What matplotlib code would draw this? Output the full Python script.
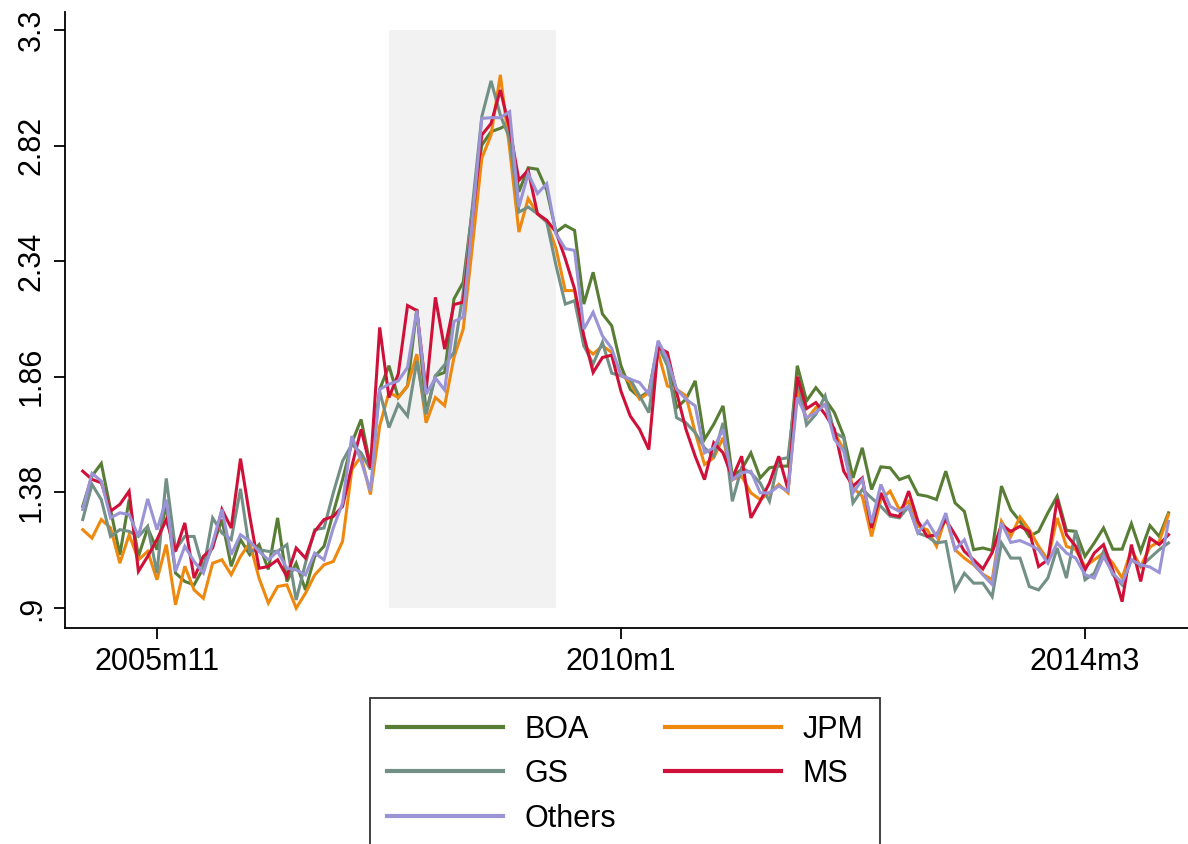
# 各银行月度指标走势（2005m3 - 2014m12），阴影为2007m12 - 2009m6衰退期

import numpy as np
import matplotlib
matplotlib.use('Agg')
import matplotlib.pyplot as plt

plt.rcParams['font.family'] = ['Liberation Sans', 'DejaVu Sans']

# 月份编号（Stata格式：自1960m1起的月数），2005m3 = 542
months = np.arange(542, 660)

# 衰退期起止（2007m12, 2009m6）
recession = (575, 593)

# 坐标轴刻度
xticks = [550, 600, 650]
xtick_labels = ['2005m11', '2010m1', '2014m3']
yticks = [0.9, 1.38, 1.86, 2.34, 2.82, 3.3]
ytick_labels = ['.9', '1.38', '1.86', '2.34', '2.82', '3.3']

boa = [
    1.322, 1.448, 1.50, 1.309, 1.121, 1.35, 1.114, 1.232, 1.142, 1.33, 1.045,
    1.01, 0.996, 1.066, 1.156, 1.267, 1.073, 1.184, 1.121, 1.163, 1.06,
    1.274, 1.01, 1.086, 0.975, 1.114, 1.156, 1.295, 1.433, 1.586, 1.683,
    1.489, 1.808, 1.906, 1.774, 1.822, 2.142, 1.711, 1.864, 1.878, 2.183,
    2.253, 2.558, 2.822, 2.878, 2.892, 2.912, 2.628, 2.728, 2.722, 2.635,
    2.461, 2.489, 2.468, 2.162, 2.294, 2.121, 2.072, 1.906, 1.808,
    1.774, 1.80, 1.996, 1.919, 1.732, 1.767, 1.843, 1.60, 1.663, 1.739,
    1.447, 1.475, 1.544, 1.44, 1.482, 1.489, 1.489, 1.906, 1.76,
    1.815, 1.767, 1.711, 1.614, 1.44, 1.565, 1.392, 1.486, 1.482, 1.433,
    1.447, 1.371, 1.364, 1.35, 1.468, 1.336, 1.301, 1.142, 1.149, 1.139,
    1.406, 1.308, 1.26, 1.197, 1.218, 1.295, 1.364, 1.222, 1.218, 1.114,
    1.17, 1.232, 1.144, 1.144, 1.25, 1.135, 1.242, 1.197, 1.295,
]

jpm = [
    1.225, 1.19, 1.267, 1.232, 1.086, 1.204, 1.10, 1.135, 1.017, 1.163, 0.913,
    1.073, 0.975, 0.94, 1.086, 1.10, 1.038, 1.114, 1.17, 1.024, 0.92,
    0.989, 0.996, 0.899, 0.961, 1.037, 1.079, 1.093, 1.177, 1.475, 1.53,
    1.371, 1.656, 1.795, 1.774, 1.822, 1.954, 1.669, 1.774, 1.74, 1.94,
    2.058, 2.406, 2.767, 2.864, 3.114, 2.808, 2.461, 2.60, 2.537, 2.503,
    2.392, 2.218, 2.218, 1.989, 1.954, 1.989, 1.961, 1.871, 1.836,
    1.767, 1.794, 1.961, 1.822, 1.808, 1.781, 1.628, 1.496, 1.524, 1.607,
    1.433, 1.447, 1.378, 1.35, 1.378, 1.413, 1.378, 1.808, 1.683,
    1.732, 1.746, 1.628, 1.558, 1.399, 1.364, 1.197, 1.35, 1.385, 1.308,
    1.343, 1.239, 1.225, 1.156, 1.28, 1.142, 1.107, 1.079, 1.04, 1.017,
    1.26, 1.197, 1.278, 1.225, 1.156, 1.10, 1.274, 1.156, 1.142, 1.072,
    1.10, 1.128, 1.086, 1.024, 1.142, 1.072, 1.153, 1.176, 1.288,
]

gs = [
    1.267, 1.413, 1.35, 1.197, 1.225, 1.218, 1.197, 1.239, 1.045, 1.438, 1.142,
    1.197, 1.197, 1.06, 1.274, 1.211, 1.184, 1.395, 1.135, 1.142, 1.135,
    1.135, 1.163, 0.933, 1.086, 1.225, 1.232, 1.378, 1.51, 1.579, 1.544,
    1.475, 1.80, 1.649, 1.746, 1.697, 1.926, 1.704, 1.864, 1.91, 1.961,
    2.211, 2.572, 2.94, 3.089, 2.947, 2.85, 2.544, 2.565, 2.537, 2.503,
    2.322, 2.162, 2.176, 1.989, 1.913, 2.003, 1.875, 1.864, 1.85,
    1.781, 1.711, 1.989, 1.906, 1.69, 1.669, 1.628, 1.565, 1.53, 1.669,
    1.343, 1.482, 1.461, 1.419, 1.343, 1.517, 1.524, 1.857, 1.66,
    1.704, 1.781, 1.628, 1.607, 1.336, 1.392, 1.357, 1.322, 1.281, 1.274,
    1.322, 1.211, 1.197, 1.17, 1.176, 0.975, 1.044, 1.003, 1.003, 0.947,
    1.17, 1.107, 1.107, 0.989, 0.975, 1.024, 1.149, 1.024, 1.222, 1.017,
    1.044, 1.135, 1.038, 0.996, 1.10, 1.072, 1.107, 1.142, 1.17,
]

ms = [
    1.468, 1.434, 1.42, 1.302, 1.33, 1.385, 1.052, 1.114, 1.184, 1.267, 1.135,
    1.253, 1.024, 1.114, 1.149, 1.309, 1.232, 1.52, 1.28, 1.065, 1.072,
    1.10, 1.03, 1.149, 1.107, 1.218, 1.267, 1.28, 1.322, 1.489, 1.642,
    1.482, 2.065, 1.774, 1.871, 2.156, 2.135, 1.801, 2.19, 1.975, 2.16,
    2.17, 2.517, 2.864, 2.912, 3.051, 2.892, 2.676, 2.718, 2.537, 2.51,
    2.461, 2.35, 2.225, 2.03, 1.878, 1.94, 1.95, 1.80, 1.697,
    1.642, 1.558, 1.982, 1.961, 1.794, 1.642, 1.53, 1.433, 1.586, 1.544,
    1.44, 1.53, 1.274, 1.343, 1.419, 1.53, 1.392, 1.86, 1.728,
    1.753, 1.704, 1.642, 1.468, 1.406, 1.44, 1.232, 1.378, 1.288, 1.28,
    1.385, 1.26, 1.197, 1.204, 1.267, 1.204, 1.135, 1.10, 1.062, 1.13,
    1.246, 1.218, 1.239, 1.218, 1.072, 1.10, 1.35, 1.204, 1.156, 1.058,
    1.128, 1.163, 1.058, 0.926, 1.163, 1.01, 1.19, 1.163, 1.204,
]

others = [
    1.309, 1.459, 1.427, 1.274, 1.295, 1.288, 1.197, 1.353, 1.225, 1.35, 1.052,
    1.156, 1.093, 1.045, 1.17, 1.309, 1.121, 1.204, 1.177, 1.135, 1.10,
    1.135, 1.065, 1.058, 1.037, 1.128, 1.10, 1.232, 1.336, 1.614, 1.51,
    1.385, 1.808, 1.829, 1.843, 1.899, 2.135, 1.788, 1.855, 1.805, 2.09,
    2.107, 2.517, 2.933, 2.936, 2.936, 2.961, 2.565, 2.704, 2.621, 2.662,
    2.454, 2.392, 2.385, 2.058, 2.128, 2.03, 1.978, 1.866, 1.85,
    1.836, 1.787, 2.01, 1.933, 1.808, 1.767, 1.739, 1.544, 1.565, 1.642,
    1.433, 1.461, 1.468, 1.378, 1.378, 1.406, 1.385, 1.774, 1.69,
    1.711, 1.746, 1.60, 1.551, 1.378, 1.433, 1.253, 1.413, 1.322, 1.301,
    1.322, 1.211, 1.26, 1.197, 1.294, 1.142, 1.183, 1.083, 1.038, 0.997,
    1.253, 1.172, 1.18, 1.163, 1.142, 1.086, 1.17, 1.128, 1.107, 1.038,
    1.024, 1.114, 1.044, 1.003, 1.10, 1.079, 1.07, 1.047, 1.26,
]

names = ['BOA', 'JPM', 'GS', 'MS', 'Others']
series = [boa, jpm, gs, ms, others]
colors = ['#587d34', '#ee880e', '#729085', '#cf1039', '#9a94d6']

fig = plt.figure(figsize=(11.88, 8.44), dpi=100)
ax = fig.add_axes([65 / 1188, 216 / 844, 1123 / 1188, 616 / 844])

# 衰退期阴影
ax.fill_between(recession, [yticks[0]] * 2, [yticks[-1]] * 2,
                color='#f2f2f2', lw=0, zorder=0)

lines = {}
for name, vals, c in zip(names, series, colors):
    lines[name], = ax.plot(months, vals, color=c, lw=2.2, label=name,
                           solid_joinstyle='miter')

ax.set_xlim(540.09, 661.1)
ax.set_ylim(0.8167, 3.375)

ax.set_xticks(xticks)
ax.set_xticklabels(xtick_labels, fontsize=22)
ax.set_yticks(yticks)
ax.set_yticklabels(ytick_labels, fontsize=22, rotation=90, va='center')
ax.tick_params(axis='both', direction='out', length=8, width=1.3, color='black')
ax.tick_params(axis='x', pad=6)
ax.tick_params(axis='y', pad=5)

for side in ['top', 'right']:
    ax.spines[side].set_visible(False)
for side in ['left', 'bottom']:
    ax.spines[side].set_linewidth(1.3)

# 图例：两列，按BOA/GS/Others 与 JPM/MS 排列
order = ['BOA', 'GS', 'Others', 'JPM', 'MS']
leg = fig.legend([lines[n] for n in order], order, ncol=2,
                 loc='upper center', bbox_to_anchor=(625 / 1188, 1 - 698 / 844),
                 borderaxespad=0,
                 fontsize=22, frameon=True, fancybox=False,
                 handlelength=3.8, handletextpad=0.7, columnspacing=1.6,
                 labelspacing=0.47, borderpad=0.55)
leg.get_frame().set_edgecolor('black')
leg.get_frame().set_linewidth(1.3)
for h in leg.legend_handles:
    h.set_linewidth(3.0)

fig.savefig('out.png', dpi=100)
